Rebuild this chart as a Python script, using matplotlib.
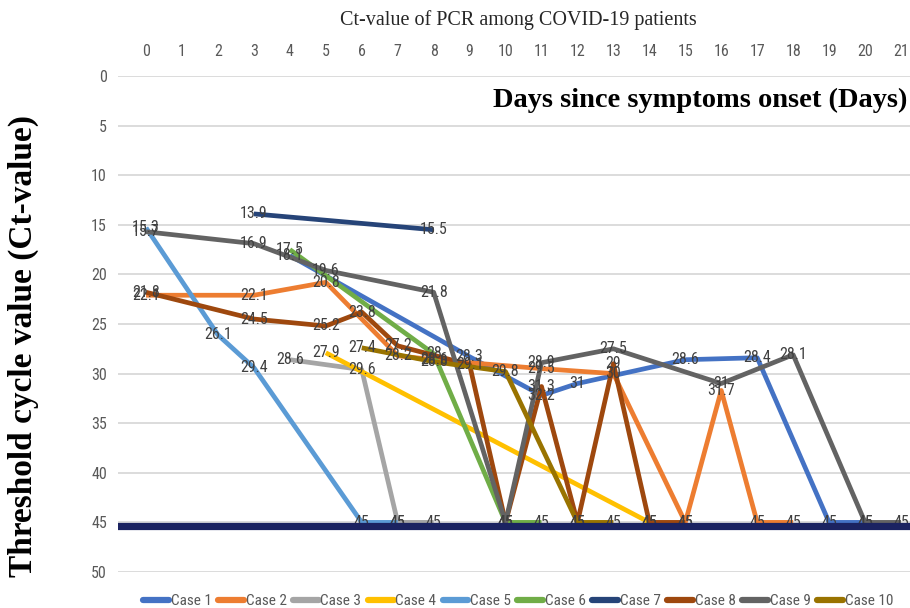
import numpy as np
import matplotlib
matplotlib.use("Agg")
import matplotlib.pyplot as plt
from matplotlib import font_manager

# data (day since onset, Ct value)
case_names = ["Case 1", "Case 2", "Case 3", "Case 4", "Case 5",
              "Case 6", "Case 7", "Case 8", "Case 9", "Case 10"]

case1_days = [4, 9, 11, 12, 15, 17, 19, 20]
case1_ct = [18.1, 28.3, 32.2, 31, 28.6, 28.4, 45, 45]

case2_days = [0, 3, 5, 7, 8, 11, 13, 15, 16, 17, 18]
case2_ct = [22.1, 22.1, 20.8, 28.2, 28.6, 29.5, 30, 45, 31.7, 45, 45]

case3_days = [4, 6, 7, 8]
case3_ct = [28.6, 29.6, 45, 45]

case4_days = [5, 14]
case4_ct = [27.9, 45]

case5_days = [0, 2, 3, 6, 7]
case5_ct = [15.3, 26.1, 29.4, 45, 45]

case6_days = [4, 8, 10, 11]
case6_ct = [17.5, 28, 45, 45]

case7_days = [3, 8]
case7_ct = [13.9, 15.5]

case8_days = [0, 3, 5, 6, 7, 9, 10, 11, 12, 13, 14, 15]
case8_ct = [21.8, 24.5, 25.2, 23.8, 27.2, 29.1, 45, 31.3, 45, 29, 45, 45]

case9_days = [0, 3, 5, 8, 10, 11, 13, 16, 18, 20, 21]
case9_ct = [15.7, 16.9, 19.6, 21.8, 45, 28.9, 27.5, 31, 28.1, 45, 45]

case10_days = [6, 8, 10, 12, 13]
case10_ct = [27.4, 28.8, 29.8, 45, 45]

cutoff_ct = 45.35

days_ticks = list(range(0, 22))
ct_ticks = list(range(0, 55, 5))

colors = ["#4472C4", "#ED7D31", "#A5A5A5", "#FFC000", "#5B9BD5",
          "#70AD47", "#264478", "#9E480E", "#636363", "#997300"]

all_days = [case1_days, case2_days, case3_days, case4_days, case5_days,
            case6_days, case7_days, case8_days, case9_days, case10_days]
all_ct = [case1_ct, case2_ct, case3_ct, case4_ct, case5_ct,
          case6_ct, case7_ct, case8_ct, case9_ct, case10_ct]

# pick a narrow sans for ticks/labels if there is one
installed = {f.name for f in font_manager.fontManager.ttflist}
sans = "DejaVu Sans"
for name in ["Liberation Sans Narrow", "Roboto Condensed", "DejaVu Sans Condensed", "Roboto"]:
    if name in installed:
        sans = name
        break
serif = "Liberation Serif" if "Liberation Serif" in installed else "DejaVu Serif"

tick_color = "#595959"
label_color = "#404040"

fig = plt.figure(figsize=(9.1, 6.08), dpi=100)
ax = fig.add_axes([118 / 910, 1 - 572 / 608, 1 - 118 / 910, (572 - 76) / 608])

for name, d, v, c in zip(case_names, all_days, all_ct, colors):
    ax.plot(d, v, color=c, lw=3.4, label=name, zorder=3,
            solid_joinstyle="round", solid_capstyle="butt")
    for x, y in zip(d, v):
        ax.text(x, y, f"{y:g}", ha="center", va="center", fontsize=11.5,
                color=label_color, family=sans, zorder=4)

ax.axhline(cutoff_ct, color="#1B2361", lw=5.2, zorder=5)

ax.set_xlim(-0.78, 21.25)
ax.set_ylim(50, 0)
ax.set_xticks(days_ticks)
ax.set_yticks(ct_ticks)
ax.xaxis.tick_top()
ax.tick_params(axis="both", length=0, colors=tick_color, labelsize=11.5)
ax.tick_params(axis="x", pad=12)
ax.tick_params(axis="y", pad=8)
for lab in ax.get_xticklabels() + ax.get_yticklabels():
    lab.set_family(sans)
ax.grid(axis="y", color="#D9D9D9", lw=1.3)
ax.set_axisbelow(True)
for s in ax.spines.values():
    s.set_visible(False)

fig.text(518 / 910, 1 - 20 / 608, "Ct-value of PCR among COVID-19 patients",
         ha="center", va="center", fontsize=14.5, family=serif, color="#262626")
fig.text(907 / 910, 1 - 100 / 608, "Days since symptoms onset (Days)",
         ha="right", va="center", fontsize=20.5, fontweight="bold", family=serif, color="black")
fig.text(23 / 910, 1 - 346 / 608, "Threshold cycle value (Ct-value)",
         ha="center", va="center", rotation=90, fontsize=24, fontweight="bold",
         family=serif, color="black")

leg = fig.legend(loc="center", bbox_to_anchor=(518 / 910, 1 - 601 / 608), ncol=10,
                 frameon=False, handlelength=1.7, handletextpad=0.12,
                 columnspacing=0.4, prop={"family": sans, "size": 11})
for t in leg.get_texts():
    t.set_color(tick_color)
for h in leg.get_lines():
    h.set_linewidth(4.5)
    h.set_solid_capstyle("round")

fig.savefig("out.png", dpi=100)
